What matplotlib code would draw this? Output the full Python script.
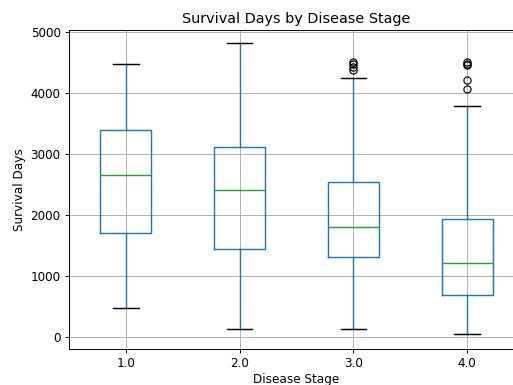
import matplotlib
matplotlib.use("Agg")
import matplotlib.pyplot as plt

# values
stages = ["1.0", "2.0", "3.0", "4.0"]
whislo = [482, 131, 137, 44]
q1 = [1705, 1438, 1311, 695]
med = [2651, 2416, 1803, 1208]
q3 = [3389, 3115, 2536, 1941]
whishi = [4466, 4810, 4238, 3777]
fliers = [[], [], [4375, 4420, 4465, 4505], [4056, 4208, 4455, 4480, 4508]]

stats = []
for i in range(len(stages)):
    stats.append({"label": stages[i], "whislo": whislo[i], "q1": q1[i], "med": med[i],
                  "q3": q3[i], "whishi": whishi[i], "fliers": fliers[i]})

dpi = 86
fig = plt.figure(figsize=(513 / dpi, 385 / dpi), dpi=dpi)
ax = fig.add_axes([69 / 513, 36 / 385, 455 / 513, 319 / 385])

ax.bxp(stats,
       boxprops=dict(color="#1f77b4", linewidth=1.2),
       whiskerprops=dict(color="#1f77b4", linewidth=1.2),
       medianprops=dict(color="#2ca02c", linewidth=1.2),
       capprops=dict(color="k", linewidth=1.2),
       flierprops=dict(marker="o", markeredgecolor="k", markerfacecolor="none"))
ax.set_axisbelow(True)
ax.grid(True)
ax.set_title("Survival Days by Disease Stage")
ax.set_xlabel("Disease Stage", labelpad=2)
ax.set_ylabel("Survival Days")
ax.set_ylim(-197, 5030)

fig.savefig("out.png", dpi=dpi)
